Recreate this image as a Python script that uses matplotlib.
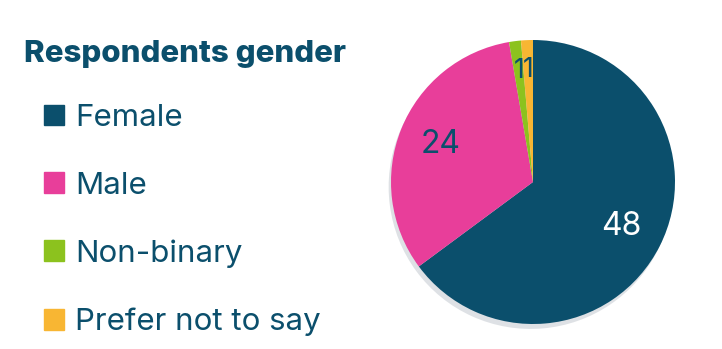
import matplotlib.pyplot as plt
from matplotlib.patches import Rectangle

plt.rcParams['font.family'] = ['Inter', 'DejaVu Sans']

genders = ['Female', 'Male', 'Non-binary', 'Prefer not to say']
counts = [48, 24, 1, 1]
colors = ['#0b4f6c', '#e83e9a', '#8cc21e', '#f8b633']
label_colors = ['white', '#0b4f6c', '#0b4f6c', '#0b4f6c']
dark = '#0b4f6c'

fig = plt.figure(figsize=(7.22, 3.49), dpi=100)
ax = fig.add_axes([391 / 722, 1 - 324 / 349, 284 / 722, 284 / 349])

wedges, texts, autotexts = ax.pie(
    counts, colors=colors, startangle=90, counterclock=False,
    autopct=lambda p: f'{round(p * sum(counts) / 100)}', pctdistance=0.7,
    wedgeprops=dict(linewidth=0), textprops=dict(fontsize=23),
    shadow=dict(ox=-0.012, oy=-0.025, color='#c9ced4', alpha=0.6, shade=0))
for t, c in zip(autotexts, label_colors):
    t.set_color(c)
for t in autotexts[2:]:
    x, y = t.get_position()
    t.set_position((x * 0.79 / 0.7, y * 0.79 / 0.7))
    t.set_fontsize(19)
ax.set_xlim(-1, 1)
ax.set_ylim(-1, 1)
ax.set_aspect('equal')

fig.text(24 / 722, 1 - 54 / 349, 'Respondents gender', fontsize=22.5,
         weight='heavy', color=dark, va='center', ha='left')

fig.legend(
    [Rectangle((0, 0), 1, 1, color=c) for c in colors], genders,
    loc='upper left', bbox_to_anchor=(44 / 722, 1 - 104 / 349),
    borderaxespad=0, borderpad=0,
    frameon=False, fontsize=22.5, labelcolor=dark,
    handlelength=0.65, handleheight=0.65, handletextpad=0.35,
    labelspacing=1.27)

fig.savefig('out.png', dpi=100, facecolor='white')
